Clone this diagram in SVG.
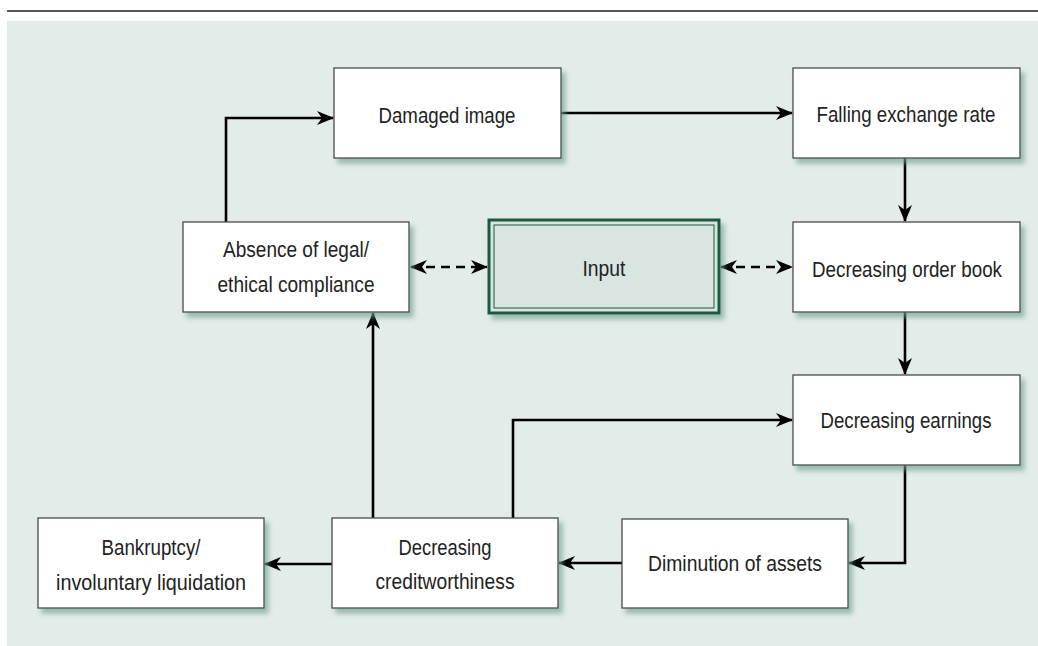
<svg xmlns="http://www.w3.org/2000/svg" width="1038" height="646" viewBox="0 0 1038 646">
<style>
.box{fill:#ffffff;stroke:#4a4a4a;stroke-width:1.3;filter:url(#sh)}
.t{font-family:"Liberation Sans","DejaVu Sans Condensed",Arial,sans-serif;font-size:22px;fill:#222;text-anchor:middle}
.c{fill:none;stroke:#000;stroke-width:2.6}
.d{fill:none;stroke:#000;stroke-width:2.6;stroke-dasharray:9 6}
</style>
<defs>
<filter id="sh" x="-10%" y="-10%" width="125%" height="135%">
<feDropShadow dx="4" dy="5" stdDeviation="2.5" flood-color="#6f9f90" flood-opacity="0.65"/>
</filter>
<marker id="ah" markerUnits="userSpaceOnUse" markerWidth="17" markerHeight="14" viewBox="0 0 17 14" refX="16" refY="7" orient="auto-start-reverse">
<path d="M0,0 L17,7 L0,14 L5,7 z" fill="#000"/>
</marker>
</defs>
<line x1="7" y1="11" x2="1038" y2="11" stroke="#555" stroke-width="2"/>
<rect x="7" y="21" width="1031" height="625" fill="#e2ece9"/>

<g id="connectors">
<path class="c" d="M226,222 V118 H333" marker-end="url(#ah)"/>
<path class="c" d="M561,113 H792" marker-end="url(#ah)"/>
<path class="c" d="M905,158 V221" marker-end="url(#ah)"/>
<path class="c" d="M905,312 V374" marker-end="url(#ah)"/>
<path class="c" d="M905,465 V563 H849" marker-end="url(#ah)"/>
<path class="c" d="M622,563 H559" marker-end="url(#ah)"/>
<path class="c" d="M332,564 H265" marker-end="url(#ah)"/>
<path class="c" d="M373,518 V313" marker-end="url(#ah)"/>
<path class="c" d="M513,518 V420 H792" marker-end="url(#ah)"/>
<path class="d" d="M411,267 H487" marker-start="url(#ah)" marker-end="url(#ah)"/>
<path class="d" d="M721,267 H792" marker-start="url(#ah)" marker-end="url(#ah)"/>
</g>

<g id="damaged-image">
<rect class="box" x="334" y="68" width="227" height="90"/>
<text class="t" x="447" y="123" textLength="137" lengthAdjust="spacingAndGlyphs">Damaged image</text>
</g>
<g id="falling-exchange-rate">
<rect class="box" x="793" y="68" width="227" height="90"/>
<text class="t" x="906" y="122" textLength="179" lengthAdjust="spacingAndGlyphs">Falling exchange rate</text>
</g>
<g id="absence-compliance">
<rect class="box" x="183" y="222" width="226" height="90"/>
<text class="t" x="296" y="257" textLength="146" lengthAdjust="spacingAndGlyphs">Absence of legal/</text>
<text class="t" x="296" y="292" textLength="157" lengthAdjust="spacingAndGlyphs">ethical compliance</text>
</g>
<g id="input">
<rect x="489" y="220" width="230" height="93" fill="#d8e5e0" stroke="#1e5a3f" stroke-width="3" filter="url(#sh)"/>
<rect x="494" y="225" width="220" height="83" fill="none" stroke="#1e5a3f" stroke-width="1"/>
<text class="t" x="604" y="276" textLength="43" lengthAdjust="spacingAndGlyphs">Input</text>
</g>
<g id="decreasing-order-book">
<rect class="box" x="793" y="222" width="227" height="90"/>
<text class="t" x="907" y="277" textLength="190" lengthAdjust="spacingAndGlyphs">Decreasing order book</text>
</g>
<g id="decreasing-earnings">
<rect class="box" x="793" y="375" width="227" height="90"/>
<text class="t" x="906" y="428" textLength="171" lengthAdjust="spacingAndGlyphs">Decreasing earnings</text>
</g>
<g id="diminution-of-assets">
<rect class="box" x="622" y="519" width="226" height="89"/>
<text class="t" x="735" y="571" textLength="174" lengthAdjust="spacingAndGlyphs">Diminution of assets</text>
</g>
<g id="decreasing-creditworthiness">
<rect class="box" x="332" y="518" width="226" height="90"/>
<text class="t" x="445" y="555" textLength="93" lengthAdjust="spacingAndGlyphs">Decreasing</text>
<text class="t" x="445" y="589" textLength="139" lengthAdjust="spacingAndGlyphs">creditworthiness</text>
</g>
<g id="bankruptcy">
<rect class="box" x="38" y="518" width="226" height="90"/>
<text class="t" x="151" y="555" textLength="99" lengthAdjust="spacingAndGlyphs">Bankruptcy/</text>
<text class="t" x="151" y="590" textLength="190" lengthAdjust="spacingAndGlyphs">involuntary liquidation</text>
</g>
</svg>
